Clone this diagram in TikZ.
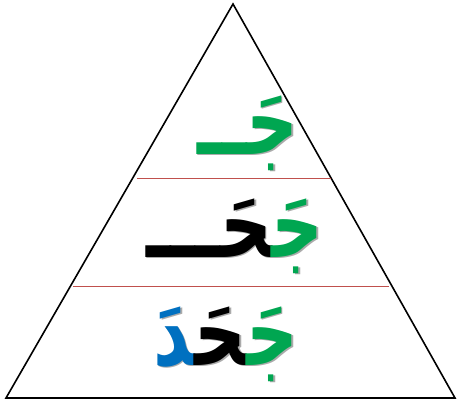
\documentclass[tikz,border=0pt]{standalone}
\usepackage{fontspec}
\usepackage{graphicx}
\newfontfamily\arabicfont[Script=Arabic]{DejaVu Sans}
\definecolor{jgreen}{RGB}{0,166,81}
\definecolor{dblue}{RGB}{0,112,192}
\definecolor{rline}{RGB}{192,80,77}
\definecolor{shade}{RGB}{170,170,170}
\newcommand{\zj}{^^^^200d}
\newcommand{\wordA}[1]{\scalebox{1}[1.3]{{\color{#1}جَــ}}}
\newcommand{\wordB}[2]{\scalebox{1}[1.3]{{\color{#1}\zj حَـــ}{\color{#2}جَ\zj}}}
\newcommand{\wordC}[3]{\scalebox{1}[1.3]{{\color{#1}\zj دَ}{\color{#2}\zj حَ\zj}{\color{#3}جَ\zj}}}
\tikzset{
  arab/.style={font=\arabicfont\bfseries\fontsize{72}{80}\selectfont, inner sep=0pt},
  divider/.style={draw=rline, line width=0.9pt},
  tri/.style={draw=black, line width=1.6pt, line join=miter}
}
\begin{document}
\begin{tikzpicture}[x=1pt,y=-1pt]
\useasboundingbox (0,0) rectangle (457,403);
\coordinate (apex) at (233,4);
\coordinate (bl) at (6,398);
\coordinate (br) at (455,398);
\draw[tri] (apex) -- (bl) -- (br) -- cycle;
\coordinate (l1a) at (137,178);
\coordinate (l1b) at (331,178);
\coordinate (l2a) at (73,286);
\coordinate (l2b) at (389,286);
\draw[divider] (l1a) -- (l1b);
\draw[divider] (l2a) -- (l2b);
% shadows
\node[arab] (s1) at (249.5,134.5) {\wordA{shade}};
\node[arab] (s2) at (236.5,237.5) {\wordB{shade}{shade}};
\node[arab] (s3) at (227.5,345.5) {\wordC{shade}{shade}{shade}};
% text
\node[arab] (t1) at (248,133) {\wordA{jgreen}};
\node[arab] (t2) at (235,236) {\wordB{black}{jgreen}};
\node[arab] (t3) at (226,344) {\wordC{dblue}{black}{jgreen}};
\end{tikzpicture}
\end{document}
